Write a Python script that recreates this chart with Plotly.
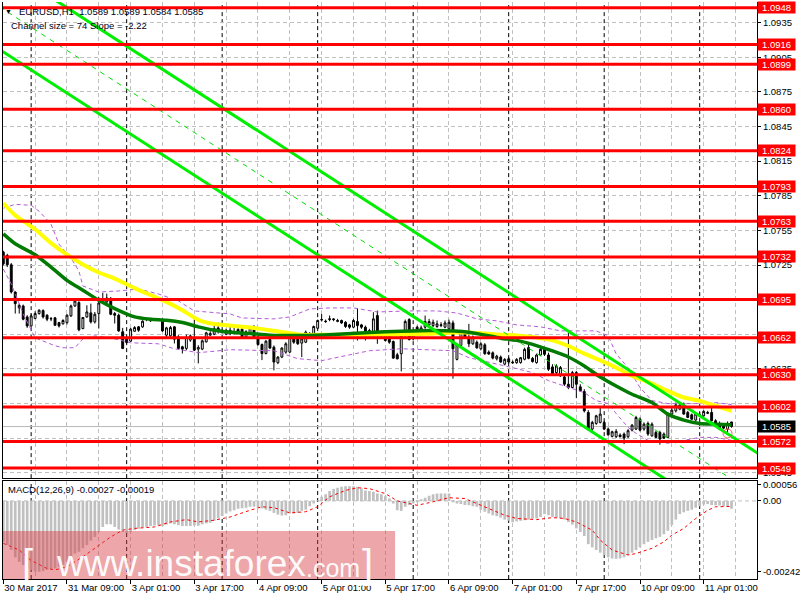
import plotly.graph_objects as go

# ---------------- data ----------------
LEVELS = [1.0948, 1.0916, 1.0899, 1.0860, 1.0824, 1.0793, 1.0763, 1.0732,
          1.0695, 1.0662, 1.0630, 1.0602, 1.0572, 1.0549]
LAST_PRICE = 1.0585

Y_TICKS = [1.0545, 1.0575, 1.0605, 1.0635, 1.0665, 1.0695, 1.0725, 1.0755,
           1.0785, 1.0815, 1.0845, 1.0875, 1.0905, 1.0935]
# tick labels that sit completely under a level tag are not visible
Y_HIDDEN = [1.0575, 1.0695]

TICK_IDX = [0, 16, 32, 48, 64, 80, 96, 112, 128, 144, 160, 176]
TICK_TEXT = ["30 Mar 2017", "31 Mar 09:00", "3 Apr 01:00", "3 Apr 17:00",
             "4 Apr 09:00", "5 Apr 01:00", "5 Apr 17:00", "6 Apr 09:00",
             "7 Apr 01:00", "7 Apr 17:00", "10 Apr 09:00", "11 Apr 01:00"]
DAY_IDX = [7, 31, 55, 79, 103, 127, 151, 175]

OPEN = [1.07362, 1.07333, 1.07252, 1.07016, 1.06878, 1.06895, 1.06800, 1.06722, 1.06786, 1.06829,
        1.06855, 1.06815, 1.06786, 1.06792, 1.06751, 1.06740, 1.06751, 1.06809, 1.06895, 1.06924,
        1.06699, 1.06800, 1.06835, 1.06757, 1.06829, 1.06930, 1.06930, 1.06959, 1.06829, 1.06815,
        1.06671, 1.06619, 1.06590, 1.06676, 1.06714, 1.06714, 1.06777, 1.06786, 1.06777, 1.06780,
        1.06771, 1.06642, 1.06636, 1.06714, 1.06627, 1.06541, 1.06527, 1.06599, 1.06619, 1.06521,
        1.06521, 1.06584, 1.06642, 1.06650, 1.06705, 1.06676, 1.06650, 1.06685, 1.06665, 1.06665,
        1.06694, 1.06627, 1.06656, 1.06714, 1.06627, 1.06561, 1.06483, 1.06604, 1.06538, 1.06403,
        1.06452, 1.06495, 1.06495, 1.06625, 1.06616, 1.06573, 1.06581, 1.06639, 1.06645, 1.06702,
        1.06774, 1.06763, 1.06777, 1.06783, 1.06769, 1.06769, 1.06754, 1.06731, 1.06711, 1.06760,
        1.06731, 1.06711, 1.06682, 1.06639, 1.06812, 1.06668, 1.06648, 1.06639, 1.06587, 1.06472,
        1.06481, 1.06639, 1.06777, 1.06610, 1.06711, 1.06653, 1.06711, 1.06731, 1.06725, 1.06717,
        1.06725, 1.06711, 1.06697, 1.06748, 1.06432, 1.06553, 1.06653, 1.06625, 1.06567, 1.06581,
        1.06524, 1.06558, 1.06495, 1.06489, 1.06437, 1.06452, 1.06391, 1.06437, 1.06409, 1.06403,
        1.06404, 1.06433, 1.06534, 1.06441, 1.06404, 1.06470, 1.06519, 1.06470, 1.06367, 1.06318,
        1.06289, 1.06280, 1.06217, 1.06188, 1.06318, 1.06194, 1.06153, 1.05972, 1.05828, 1.05877,
        1.05886, 1.05886, 1.05828, 1.05765, 1.05762, 1.05776, 1.05785, 1.05762, 1.05819, 1.05828,
        1.05914, 1.05828, 1.05877, 1.05770, 1.05799, 1.05799, 1.05785, 1.05756, 1.05958, 1.05986,
        1.06001, 1.06038, 1.05972, 1.05952, 1.05906, 1.05952, 1.05943, 1.05972, 1.05972, 1.05900,
        1.05877, 1.05865, 1.05828, 1.05890]
HIGH = [1.07373, 1.07347, 1.07267, 1.07022, 1.06915, 1.06907, 1.06815, 1.06829, 1.06849, 1.06866,
        1.06866, 1.06823, 1.06800, 1.06800, 1.06757, 1.06780, 1.06823, 1.06907, 1.06959, 1.06936,
        1.06800, 1.06901, 1.06915, 1.06843, 1.06973, 1.07010, 1.07002, 1.06973, 1.06843, 1.06829,
        1.06705, 1.06633, 1.06705, 1.06720, 1.06722, 1.06771, 1.06792, 1.06792, 1.06789, 1.06786,
        1.06786, 1.06714, 1.06722, 1.06722, 1.06642, 1.06550, 1.06648, 1.06648, 1.06780, 1.06555,
        1.06604, 1.06671, 1.06676, 1.06722, 1.06751, 1.06694, 1.06699, 1.06722, 1.06714, 1.06705,
        1.06705, 1.06685, 1.06714, 1.06728, 1.06642, 1.06570, 1.06599, 1.06616, 1.06553, 1.06460,
        1.06538, 1.06581, 1.06639, 1.06639, 1.06633, 1.06616, 1.06682, 1.06668, 1.06725, 1.06777,
        1.06826, 1.06777, 1.06812, 1.06789, 1.06783, 1.06777, 1.06763, 1.06740, 1.06783, 1.06875,
        1.06740, 1.06725, 1.06697, 1.06841, 1.06855, 1.06682, 1.06668, 1.06653, 1.06596, 1.06489,
        1.06653, 1.06777, 1.06789, 1.06668, 1.06725, 1.06725, 1.06812, 1.06783, 1.06777, 1.06769,
        1.06754, 1.06769, 1.06777, 1.06769, 1.06567, 1.06682, 1.06668, 1.06740, 1.06639, 1.06596,
        1.06581, 1.06573, 1.06510, 1.06501, 1.06472, 1.06466, 1.06443, 1.06452, 1.06423, 1.06443,
        1.06453, 1.06534, 1.06562, 1.06453, 1.06482, 1.06534, 1.06539, 1.06490, 1.06390, 1.06390,
        1.06375, 1.06297, 1.06663, 1.06332, 1.06332, 1.06217, 1.06174, 1.05992, 1.05900, 1.05952,
        1.06021, 1.05900, 1.05842, 1.05814, 1.05828, 1.05791, 1.05799, 1.05828, 1.05871, 1.05943,
        1.05929, 1.05886, 1.05894, 1.05886, 1.05814, 1.05814, 1.05799, 1.05972, 1.06021, 1.06058,
        1.06044, 1.06058, 1.05986, 1.05963, 1.05963, 1.05972, 1.05992, 1.05986, 1.06015, 1.05914,
        1.05894, 1.05877, 1.05894, 1.05890]
LOW = [1.07247, 1.07232, 1.07002, 1.06829, 1.06829, 1.06771, 1.06705, 1.06714, 1.06780, 1.06820,
       1.06786, 1.06763, 1.06763, 1.06722, 1.06708, 1.06734, 1.06734, 1.06800, 1.06887, 1.06676,
       1.06694, 1.06792, 1.06743, 1.06743, 1.06699, 1.06915, 1.06901, 1.06815, 1.06743, 1.06671,
       1.06521, 1.06570, 1.06584, 1.06671, 1.06671, 1.06705, 1.06763, 1.06757, 1.06766, 1.06766,
       1.06671, 1.06613, 1.06627, 1.06570, 1.06518, 1.06483, 1.06512, 1.06584, 1.06504, 1.06397,
       1.06512, 1.06578, 1.06636, 1.06642, 1.06656, 1.06656, 1.06642, 1.06642, 1.06648, 1.06653,
       1.06613, 1.06619, 1.06648, 1.06613, 1.06550, 1.06426, 1.06475, 1.06524, 1.06337, 1.06391,
       1.06443, 1.06481, 1.06489, 1.06567, 1.06558, 1.06452, 1.06573, 1.06625, 1.06639, 1.06697,
       1.06760, 1.06748, 1.06763, 1.06763, 1.06754, 1.06740, 1.06705, 1.06697, 1.06702, 1.06596,
       1.06697, 1.06596, 1.06625, 1.06625, 1.06567, 1.06625, 1.06587, 1.06567, 1.06437, 1.06432,
       1.06328, 1.06625, 1.06596, 1.06596, 1.06662, 1.06645, 1.06697, 1.06725, 1.06711, 1.06705,
       1.06711, 1.06702, 1.06682, 1.06265, 1.06423, 1.06538, 1.06616, 1.06538, 1.06558, 1.06524,
       1.06510, 1.06472, 1.06472, 1.06432, 1.06423, 1.06403, 1.06380, 1.06394, 1.06394, 1.06394,
       1.06395, 1.06424, 1.06433, 1.06404, 1.06395, 1.06462, 1.06462, 1.06332, 1.06297, 1.06303,
       1.06280, 1.06202, 1.06174, 1.06182, 1.06096, 1.06153, 1.05972, 1.05814, 1.05814, 1.05865,
       1.05877, 1.05819, 1.05770, 1.05756, 1.05750, 1.05756, 1.05698, 1.05750, 1.05808, 1.05819,
       1.05808, 1.05814, 1.05770, 1.05762, 1.05750, 1.05693, 1.05742, 1.05750, 1.05943, 1.05972,
       1.05992, 1.05952, 1.05923, 1.05906, 1.05900, 1.05935, 1.05935, 1.05958, 1.05894, 1.05857,
       1.05819, 1.05828, 1.05799, 1.05840]
CLOSE = [1.07261, 1.07252, 1.07016, 1.06915, 1.06901, 1.06780, 1.06722, 1.06809, 1.06829, 1.06858,
         1.06800, 1.06780, 1.06783, 1.06728, 1.06722, 1.06769, 1.06815, 1.06895, 1.06938, 1.06688,
         1.06795, 1.06843, 1.06757, 1.06823, 1.06921, 1.06950, 1.06964, 1.06823, 1.06815, 1.06679,
         1.06527, 1.06578, 1.06694, 1.06708, 1.06685, 1.06763, 1.06783, 1.06766, 1.06783, 1.06774,
         1.06679, 1.06705, 1.06708, 1.06607, 1.06527, 1.06521, 1.06622, 1.06636, 1.06512, 1.06535,
         1.06593, 1.06662, 1.06656, 1.06699, 1.06685, 1.06671, 1.06685, 1.06656, 1.06671, 1.06691,
         1.06622, 1.06671, 1.06705, 1.06627, 1.06561, 1.06483, 1.06590, 1.06530, 1.06409, 1.06452,
         1.06530, 1.06567, 1.06625, 1.06581, 1.06567, 1.06610, 1.06668, 1.06645, 1.06717, 1.06769,
         1.06777, 1.06760, 1.06783, 1.06777, 1.06763, 1.06748, 1.06717, 1.06711, 1.06769, 1.06725,
         1.06711, 1.06653, 1.06639, 1.06783, 1.06639, 1.06633, 1.06596, 1.06581, 1.06443, 1.06437,
         1.06639, 1.06760, 1.06604, 1.06653, 1.06668, 1.06705, 1.06760, 1.06760, 1.06754, 1.06740,
         1.06731, 1.06748, 1.06754, 1.06524, 1.06558, 1.06668, 1.06625, 1.06567, 1.06625, 1.06532,
         1.06567, 1.06481, 1.06478, 1.06443, 1.06460, 1.06409, 1.06432, 1.06409, 1.06403, 1.06432,
         1.06447, 1.06519, 1.06441, 1.06413, 1.06470, 1.06519, 1.06476, 1.06346, 1.06309, 1.06375,
         1.06361, 1.06217, 1.06188, 1.06318, 1.06217, 1.06159, 1.05986, 1.05828, 1.05886, 1.05943,
         1.05958, 1.05828, 1.05779, 1.05805, 1.05808, 1.05762, 1.05750, 1.05814, 1.05862, 1.05929,
         1.05819, 1.05871, 1.05785, 1.05871, 1.05756, 1.05742, 1.05750, 1.05958, 1.05992, 1.06038,
         1.06038, 1.05958, 1.05929, 1.05914, 1.05958, 1.05943, 1.05981, 1.05966, 1.05900, 1.05865,
         1.05828, 1.05836, 1.05877, 1.05850]

# moving averages (sampled along the bars)
MA_YELLOW_IDX = [0, 3, 8, 12, 16, 20, 24, 28, 33, 37, 41, 45, 49, 53, 58, 62, 67, 75, 81, 88, 92,
                 100, 108, 113, 117, 125, 129, 133, 138, 142, 146, 150, 154, 158, 163, 167, 171,
                 175, 179, 183]
MA_YELLOW = [1.07785, 1.07680, 1.07560, 1.07440, 1.07340, 1.07255, 1.07185, 1.07132, 1.07050,
             1.06990, 1.06930, 1.06858, 1.06775, 1.06738, 1.06722, 1.06708, 1.06685, 1.06645,
             1.06645, 1.06645, 1.06645, 1.06648, 1.06655, 1.06665, 1.06665, 1.06645, 1.06640,
             1.06626, 1.06597, 1.06548, 1.06482, 1.06424, 1.06361, 1.06289, 1.06223, 1.06159,
             1.06102, 1.06073, 1.06030, 1.05986]
MA_GREEN_IDX = [0, 3, 8, 12, 16, 20, 24, 28, 33, 37, 41, 45, 49, 53, 58, 62, 67, 75, 83, 92, 100,
                108, 117, 125, 129, 133, 138, 142, 146, 150, 154, 158, 163, 167, 171, 175, 179, 183]
MA_GREEN = [1.07520, 1.07434, 1.07339, 1.07232, 1.07117, 1.07031, 1.06944, 1.06872, 1.06800,
            1.06780, 1.06771, 1.06751, 1.06714, 1.06685, 1.06665, 1.06656, 1.06642, 1.06639,
            1.06648, 1.06665, 1.06676, 1.06682, 1.06668, 1.06616, 1.06597, 1.06562, 1.06505,
            1.06453, 1.06375, 1.06280, 1.06202, 1.06130, 1.06058, 1.05958, 1.05906, 1.05877,
            1.05871, 1.05865]

# Bollinger bands (sampled)
BB_UP_IDX = [0, 3, 7, 9, 12, 14, 17, 19, 20, 24, 29, 34, 39, 44, 48, 57, 60, 68, 72, 77, 82, 88,
             94, 102, 109, 114, 119, 124, 129, 135, 140, 145, 149, 152, 154, 157, 160, 163, 167,
             174, 179, 183]
BB_UP = [1.07742, 1.07776, 1.07767, 1.07716, 1.07604, 1.07431, 1.07310, 1.07198, 1.07068, 1.07016,
         1.07025, 1.07042, 1.06999, 1.06939, 1.06852, 1.06826, 1.06791, 1.06783, 1.06800, 1.06869,
         1.06878, 1.06878, 1.06843, 1.06852, 1.06852, 1.06834, 1.06783, 1.06766, 1.06731, 1.06714,
         1.06679, 1.06679, 1.06679, 1.06636, 1.06480, 1.06359, 1.06187, 1.06075, 1.06049, 1.06049,
         1.06058, 1.06040]
BB_LO_IDX = [0, 2, 5, 7, 8, 13, 15, 18, 20, 23, 28, 32, 39, 43, 49, 57, 68, 74, 80, 92, 100, 113,
             117, 129, 133, 137, 142, 146, 149, 152, 154, 157, 159, 162, 167, 171, 175, 179, 183]
BB_LO = [1.07215, 1.07085, 1.06826, 1.06679, 1.06619, 1.06550, 1.06533, 1.06533, 1.06610, 1.06636,
         1.06610, 1.06576, 1.06567, 1.06524, 1.06490, 1.06516, 1.06507, 1.06438, 1.06421, 1.06507,
         1.06524, 1.06507, 1.06447, 1.06352, 1.06317, 1.06248, 1.06187, 1.06144, 1.06075, 1.06049,
         1.05963, 1.05843, 1.05791, 1.05731, 1.05705, 1.05731, 1.05756, 1.05756, 1.05731]

# regression channel (size 74 pips, slope -2.22 pips/bar)
CH_IDX = [-1, 190]
CH_UPPER = [1.09858, 1.05609]
CH_MIDDLE = [1.09488, 1.05239]
CH_LOWER = [1.09118, 1.04869]

MARK_IDX = [182]
MARK_PRICE = [1.0579]

# MACD(12,26,9)
MACD_MAIN = [-0.00140, -0.00151, -0.00168, -0.00193, -0.00208, -0.00219, -0.00231, -0.00236, -0.00242, -0.00242,
             -0.00240, -0.00236, -0.00234, -0.00231, -0.00225, -0.00219, -0.00208, -0.00193, -0.00180, -0.00174,
             -0.00162, -0.00151, -0.00136, -0.00123, -0.00106, -0.00089, -0.00080, -0.00080, -0.00089, -0.00098,
             -0.00106, -0.00109, -0.00106, -0.00100, -0.00095, -0.00091, -0.00089, -0.00086, -0.00084, -0.00083,
             -0.00086, -0.00081, -0.00077, -0.00080, -0.00083, -0.00086, -0.00086, -0.00086, -0.00084, -0.00085,
             -0.00080, -0.00077, -0.00075, -0.00068, -0.00060, -0.00052, -0.00043, -0.00036, -0.00032, -0.00027,
             -0.00025, -0.00023, -0.00020, -0.00020, -0.00023, -0.00026, -0.00030, -0.00034, -0.00041, -0.00047,
             -0.00050, -0.00049, -0.00043, -0.00043, -0.00041, -0.00034, -0.00030, -0.00018, -0.00009, 0.00001,
             0.00014, 0.00023, 0.00034, 0.00041, 0.00045, 0.00048, 0.00050, 0.00050, 0.00050, 0.00048,
             0.00042, 0.00036, 0.00034, 0.00031, 0.00025, 0.00023, 0.00016, 0.00008, -0.00009, -0.00032,
             -0.00034, -0.00020, -0.00014, -0.00009, -0.00005, 0.00005, 0.00011, 0.00018, 0.00023, 0.00025,
             0.00025, 0.00025, 0.00025, -0.00003, -0.00009, -0.00011, -0.00014, -0.00015, -0.00018, -0.00020,
             -0.00030, -0.00037, -0.00043, -0.00049, -0.00052, -0.00057, -0.00064, -0.00068, -0.00073, -0.00070,
             -0.00068, -0.00066, -0.00064, -0.00061, -0.00060, -0.00055, -0.00045, -0.00049, -0.00055, -0.00057,
             -0.00060, -0.00064, -0.00072, -0.00081, -0.00094, -0.00106, -0.00120, -0.00148, -0.00159, -0.00168,
             -0.00177, -0.00185, -0.00193, -0.00197, -0.00198, -0.00197, -0.00193, -0.00185, -0.00177, -0.00168,
             -0.00159, -0.00148, -0.00140, -0.00134, -0.00128, -0.00123, -0.00114, -0.00102, -0.00083, -0.00064,
             -0.00045, -0.00039, -0.00034, -0.00030, -0.00023, -0.00018, -0.00012, -0.00011, -0.00014, -0.00015,
             -0.00016, -0.00018, -0.00020, -0.00027]
MACD_SIG_IDX = [0, 3, 4, 7, 11, 13, 16, 20, 23, 27, 30, 33, 38, 42, 46, 49, 53, 57, 62, 65, 68, 72,
                76, 79, 82, 86, 89, 92, 96, 98, 99, 102, 104, 108, 112, 116, 119, 123, 126, 129, 134,
                138, 141, 144, 148, 150, 153, 157, 159, 163, 166, 168, 171, 174, 177, 179, 183]
MACD_SIG = [-0.00145, -0.00162, -0.00168, -0.00204, -0.00231, -0.00236, -0.00225, -0.00191, -0.00162,
            -0.00123, -0.00100, -0.00094, -0.00089, -0.00072, -0.00064, -0.00072, -0.00066, -0.00055,
            -0.00032, -0.00020, -0.00023, -0.00041, -0.00037, -0.00020, 0.00014, 0.00036, 0.00045,
            0.00042, 0.00025, 0.00008, 0.00000, -0.00009, -0.00015, -0.00003, 0.00011, 0.00008, -0.00009,
            -0.00032, -0.00049, -0.00060, -0.00064, -0.00057, -0.00060, -0.00072, -0.00100, -0.00134,
            -0.00168, -0.00185, -0.00180, -0.00162, -0.00140, -0.00117, -0.00094, -0.00060, -0.00032,
            -0.00020, -0.00019]
MACD_MAX_LABEL = 0.00056
MACD_MIN_LABEL = -0.00242

# ---------------- figure ----------------
BARS = list(range(len(OPEN)))
XR = [-0.075, 189.4]
FONT = "Liberation Sans, Arial, sans-serif"
GRID = "#c0c0c0"
DASH = "4px,3px"

fig = go.Figure()

fig.add_trace(go.Candlestick(
    x=BARS, open=OPEN, high=HIGH, low=LOW, close=CLOSE,
    increasing=dict(line=dict(color="black", width=1), fillcolor="white"),
    decreasing=dict(line=dict(color="black", width=1), fillcolor="black"),
    whiskerwidth=0, hoverinfo="skip", xaxis="x", yaxis="y"))

for xs, ys in ((BB_UP_IDX, BB_UP), (BB_LO_IDX, BB_LO)):
    fig.add_trace(go.Scatter(x=xs, y=ys, mode="lines", hoverinfo="skip",
                             line=dict(color="#b45ad6", width=1, dash=DASH),
                             xaxis="x", yaxis="y"))

fig.add_trace(go.Scatter(x=MA_YELLOW_IDX, y=MA_YELLOW, mode="lines", hoverinfo="skip",
                         line=dict(color="#ffff00", width=4, shape="spline", smoothing=0.6),
                         xaxis="x", yaxis="y"))
fig.add_trace(go.Scatter(x=MA_GREEN_IDX, y=MA_GREEN, mode="lines", hoverinfo="skip",
                         line=dict(color="#007a00", width=3.5, shape="spline", smoothing=0.6),
                         xaxis="x", yaxis="y"))

for ys in (CH_UPPER, CH_LOWER):
    fig.add_trace(go.Scatter(x=CH_IDX, y=ys, mode="lines", hoverinfo="skip",
                             line=dict(color="#00ee00", width=3), xaxis="x", yaxis="y"))
fig.add_trace(go.Scatter(x=CH_IDX, y=CH_MIDDLE, mode="lines", hoverinfo="skip",
                         line=dict(color="#00dd00", width=1, dash="5px,5px"),
                         xaxis="x", yaxis="y"))

fig.add_trace(go.Scatter(x=MARK_IDX, y=MARK_PRICE, mode="markers", hoverinfo="skip",
                         marker=dict(symbol="circle-open", size=9, color="#ff5a5a",
                                     line=dict(width=1, color="#ff5a5a")),
                         xaxis="x", yaxis="y"))

fig.add_trace(go.Bar(x=BARS, y=MACD_MAIN, width=0.68, marker=dict(color="#c0c0c0", line=dict(width=0)),
                     hoverinfo="skip", xaxis="x2", yaxis="y2"))
fig.add_trace(go.Scatter(x=MACD_SIG_IDX, y=MACD_SIG, mode="lines", hoverinfo="skip",
                         line=dict(color="#ff0000", width=1, dash="3px,3px"),
                         xaxis="x2", yaxis="y2"))

shapes = []
for d in DAY_IDX:
    for yref in ("y domain", "y2 domain"):
        shapes.append(dict(type="line", xref="x", yref=yref, x0=d, x1=d, y0=0, y1=1,
                           line=dict(color="black", width=1, dash=DASH), layer="below"))
shapes.append(dict(type="line", xref="x domain", yref="y", x0=0, x1=1, y0=LAST_PRICE, y1=LAST_PRICE,
                   line=dict(color="#b8b8b8", width=1), layer="below"))
shapes.append(dict(type="line", xref="x2 domain", yref="y2", x0=0, x1=1, y0=0, y1=0,
                   line=dict(color=GRID, width=1, dash=DASH), layer="below"))
for lv in LEVELS:
    shapes.append(dict(type="line", xref="x domain", yref="y", x0=0, x1=1, y0=lv, y1=lv,
                       line=dict(color="#ff0000", width=3), layer="above"))
# watermark box
shapes.append(dict(type="rect", xref="paper", yref="paper", x0=0, x1=0.52, y0=0, y1=0.083,
                   fillcolor="rgba(214,60,66,0.45)", line=dict(width=0), layer="above"))

annotations = []
for lv in LEVELS:
    annotations.append(dict(xref="paper", yref="y", x=1, y=lv, xanchor="left", yanchor="middle",
                            text=f"{lv:.4f}", showarrow=False, bgcolor="#ff0000",
                            font=dict(family=FONT, size=9.5, color="white"),
                            width=35, height=9, borderpad=1))
annotations.append(dict(xref="paper", yref="y", x=1, y=LAST_PRICE, xanchor="left", yanchor="middle",
                        text=f"{LAST_PRICE:.4f}", showarrow=False, bgcolor="#000000",
                        font=dict(family=FONT, size=9.5, color="white"),
                        width=35, height=9, borderpad=1))

WM = "rgba(255,255,255,0.95)"
annotations += [
    dict(xref="paper", yref="paper", x=0.0075, y=0.9827, xanchor="center", yanchor="middle",
         text="▼", showarrow=False, font=dict(family=FONT, size=7, color="black")),
    dict(xref="paper", yref="paper", x=0.019, y=0.9827, xanchor="left", yanchor="middle",
         text="EURUSD,H1  1.0589 1.0589 1.0584 1.0585", showarrow=False,
         font=dict(family=FONT, size=9.5, color="#000020")),
    dict(xref="paper", yref="paper", x=0.008, y=0.9585, xanchor="left", yanchor="middle",
         text="Channel size = 74 Slope = -2.22", showarrow=False,
         font=dict(family=FONT, size=9.5, color="#000020")),
    dict(xref="paper", yref="paper", x=0.004, y=0.1554, xanchor="left", yanchor="middle",
         text="MACD(12,26,9) -0.00027 -0.00019", showarrow=False,
         font=dict(family=FONT, size=9.5, color="#000020")),
    # watermark text
    dict(xref="paper", yref="paper", x=0.033, y=0.0265, xanchor="center", yanchor="middle",
         text="[", showarrow=False, font=dict(family=FONT, size=40, color=WM)),
    dict(xref="paper", yref="paper", x=0.0675, y=0.027, xanchor="left", yanchor="middle",
         text="www.instaforex", showarrow=False, font=dict(family=FONT, size=37, color=WM)),
    dict(xref="paper", yref="paper", x=0.399, y=0.019, xanchor="left", yanchor="middle",
         text=".com", showarrow=False, font=dict(family=FONT, size=25, color=WM)),
    dict(xref="paper", yref="paper", x=0.484, y=0.0265, xanchor="center", yanchor="middle",
         text="]", showarrow=False, font=dict(family=FONT, size=40, color=WM)),
]

fig.update_layout(
    width=800, height=600, margin=dict(l=3, r=39, t=0, b=21),
    paper_bgcolor="white", plot_bgcolor="white", showlegend=False,
    font=dict(family=FONT, size=9.5, color="black"),
    boxgap=0.32,
    xaxis=dict(domain=[0, 1], anchor="y", range=XR, showticklabels=False, ticks="",
               tick0=0, dtick=8, showgrid=True, gridcolor=GRID, griddash=DASH, gridwidth=1,
               showline=True, linecolor="black", linewidth=1, mirror=False, zeroline=False,
               rangeslider=dict(visible=False)),
    yaxis=dict(domain=[0.1748, 1], anchor="x", side="right", range=[1.05403, 1.09529],
               tickmode="array", tickvals=Y_TICKS,
               ticktext=["" if v in Y_HIDDEN else f"{v:.4f}" for v in Y_TICKS],
               showgrid=True, gridcolor=GRID, griddash=DASH, zeroline=False,
               showline=True, linecolor="black", linewidth=1, mirror=True,
               ticks="outside", ticklen=3, tickcolor="black",
               tickfont=dict(family=FONT, size=9.5, color="black")),
    xaxis2=dict(domain=[0, 1], anchor="y2", range=XR, tickmode="array", tickvals=TICK_IDX,
                ticktext=TICK_TEXT, ticklabelposition="outside right", ticks="outside",
                ticklen=4, tickcolor="black", showgrid=True, gridcolor=GRID, griddash=DASH,
                minor=dict(tick0=0, dtick=8, showgrid=True, gridcolor=GRID, griddash=DASH, ticks=""),
                showline=True, linecolor="black", linewidth=1, mirror=True, zeroline=False,
                tickfont=dict(family=FONT, size=9.5, color="black")),
    yaxis2=dict(domain=[0, 0.1693], anchor="x2", side="right", range=[-0.00267, 0.00067],
                tickmode="array", tickvals=[MACD_MAX_LABEL, 0, MACD_MIN_LABEL],
                ticktext=[f"{MACD_MAX_LABEL:.5f}", "0.00", f"{MACD_MIN_LABEL:.5f}"],
                showgrid=False, zeroline=False, showline=True, linecolor="black", linewidth=1,
                mirror=True, ticks="outside", ticklen=3, tickcolor="black",
                tickfont=dict(family=FONT, size=9.5, color="black")),
    shapes=shapes, annotations=annotations,
)

fig.write_html("out.html", config={"displayModeBar": False},
               post_script="document.body.style.margin='0px';")
